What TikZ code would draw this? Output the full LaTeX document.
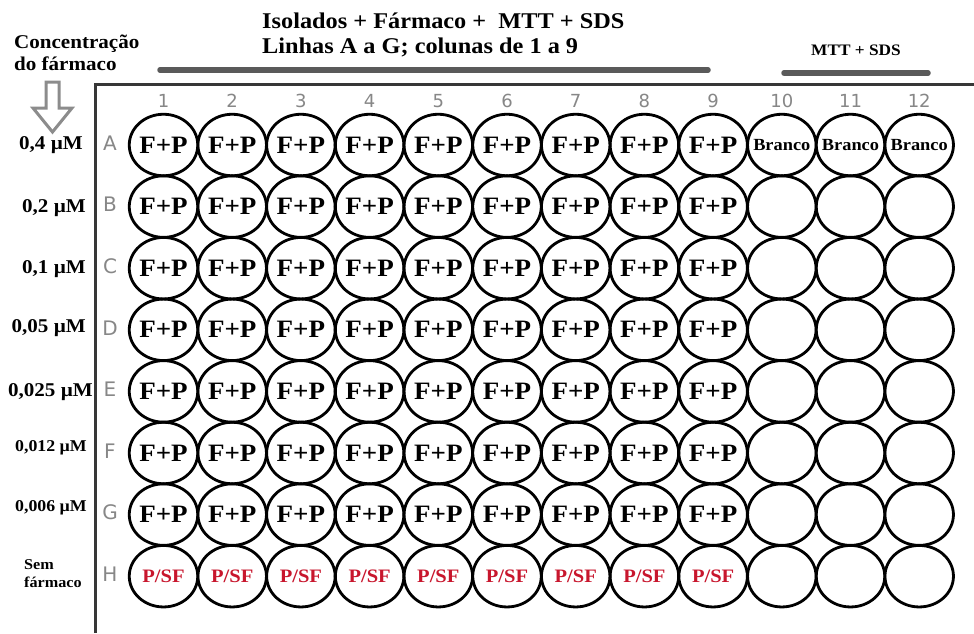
\documentclass[tikz,border=0pt]{standalone}
\usepackage{fontspec}
\setmainfont{Liberation Serif}[FakeStretch=1.08]
\newfontfamily\numfont{DejaVu Sans}
\usetikzlibrary{shapes.geometric}
\definecolor{framegray}{RGB}{55,55,55}
\definecolor{bargray}{RGB}{90,90,90}
\definecolor{arrowgray}{RGB}{140,140,140}
\definecolor{idgray}{RGB}{135,135,135}
\definecolor{pred}{RGB}{200,22,45}
\tikzset{
  well/.style={draw=black, line width=2.8pt, ellipse, minimum width=68.5pt, minimum height=61.5pt, inner sep=0pt},
  fp/.style={font=\fontsize{25}{25}\selectfont\bfseries, inner sep=0pt},
  psf/.style={font=\fontsize{19}{19}\selectfont\bfseries, text=pred, inner sep=0pt},
  branco/.style={font=\fontsize{17}{17}\selectfont\bfseries, inner sep=0pt},
  colid/.style={font=\numfont\fontsize{18}{18}\selectfont, text=idgray, inner sep=0pt},
  conc/.style={font=\fontsize{19.5}{19.5}\selectfont\bfseries, inner sep=0pt, anchor=east},
  concs/.style={font=\fontsize{16.5}{16.5}\selectfont\bfseries, inner sep=0pt, anchor=east},
  bar/.style={line width=5.5pt, draw=bargray, line cap=round},
}
\begin{document}
\begin{tikzpicture}[x=1pt,y=-1pt]
\useasboundingbox[fill=white] (0,0) rectangle (974,633);

% plate frame
\draw[line width=3pt, framegray] (95,633) -- (95,84) -- (974,84);

% top texts and bars
\node[font=\fontsize{22.5}{25}\selectfont\bfseries, align=left, anchor=west, inner sep=0pt] (title) at (262,34.5)
  {Isolados + Fármaco +~ MTT + SDS\\Linhas A a G; colunas de 1 a 9};
\coordinate (barAs) at (160,70);
\coordinate (barAe) at (708,70);
\draw[bar] (barAs) -- (barAe);
\node[font=\fontsize{16}{16}\selectfont\bfseries, inner sep=0pt] (mtt) at (856,50) {MTT + SDS};
\coordinate (barBs) at (784,73);
\coordinate (barBe) at (928,73);
\draw[bar] (barBs) -- (barBe);

% concentration header and arrow
\node[font=\fontsize{19.5}{22}\selectfont\bfseries, align=left, anchor=west, inner sep=0pt] (conchead) at (14,53)
  {Concentração\\do fármaco};
\draw[line width=3pt, arrowgray, line join=miter] (46,82) -- (59,82) -- (59,108) -- (72,108) -- (52.5,132) -- (33,108) -- (46,108) -- cycle;

% column numbers
\foreach \c in {1,...,12}{
  \node[colid] (col\c) at ({163.5+68.7*(\c-1)},101) {\c};
}
% row letters and wells
\foreach \L [count=\i from 0] in {A,B,C,D,E,F,G,H}{
  \node[colid, font=\numfont\fontsize{20}{20}\selectfont] (row\L) at (110,{143+61.6*\i}) {\L};
  \foreach \c in {1,...,12}{
    \node[well] (w\L\c) at ({163.5+68.7*(\c-1)},{145+61.6*\i}) {};
  }
}
% well contents
\foreach \L in {A,B,C,D,E,F,G}{
  \foreach \c in {1,...,9}{
    \node[fp] (t\L\c) at (w\L\c) {F+P};
  }
}
\foreach \c in {1,...,9}{
  \node[psf] (tH\c) at (wH\c) {P/SF};
}
\foreach \c in {10,11,12}{
  \node[branco] (tA\c) at (wA\c) {Branco};
}

% concentration labels
\node[conc] (cA) at (83,145) {0,4 µM};
\node[conc] (cB) at (86,208) {0,2 µM};
\node[conc] (cC) at (86,269) {0,1 µM};
\node[conc] (cD) at (86,328) {0,05 µM};
\node[conc] (cE) at (93,392) {0,025 µM};
\node[concs] (cF) at (87,448) {0,012 µM};
\node[concs] (cG) at (87,508) {0,006 µM};
\node[font=\fontsize{15}{18}\selectfont\bfseries, align=left, anchor=west, inner sep=0pt] (cH) at (24,574) {Sem\\fármaco};
\end{tikzpicture}
\end{document}
